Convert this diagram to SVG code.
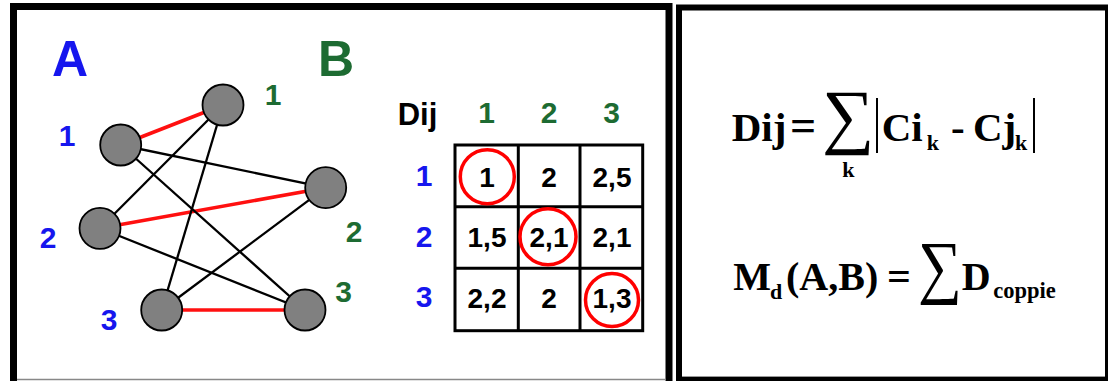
<svg xmlns="http://www.w3.org/2000/svg" width="1108" height="381" viewBox="0 0 1108 381">
<style>
.ss{font-family:"Liberation Sans",Arial,sans-serif;font-weight:bold}
.blue{fill:#1616ee}
.green{fill:#1d6b32}
.blk{fill:#000}
.edge{stroke:#000;stroke-width:2.3}
.red{stroke:#ff1010;stroke-width:3.5}
.node{fill:#808080;stroke:#000;stroke-width:1.8}
.cell{font-size:28px;text-anchor:middle}
.ring{fill:none;stroke:#ff0000;stroke-width:3.5}
.grid{stroke:#000;stroke-width:3;fill:none}
.tm{font-family:"Liberation Serif","Times New Roman",serif;font-weight:bold;fill:#000}
.sig{font-family:"Liberation Serif","Times New Roman",serif;font-weight:normal;fill:#000;text-anchor:middle}
</style>
<rect x="0" y="0" width="1108" height="381" fill="#fff"/>
<g id="frames">
<rect x="13.5" y="6.5" width="655.5" height="380" fill="#fff" stroke="#000" stroke-width="7"/>
<line x1="17" y1="379.5" x2="666" y2="379.5" stroke="#888" stroke-width="1.5"/>
<rect x="679" y="7.5" width="429" height="372" fill="#fff" stroke="#000" stroke-width="6"/>
<line x1="682" y1="376.5" x2="1105" y2="376.5" stroke="#999" stroke-width="1"/>
</g>
<g id="connectors">
<line class="red" x1="120.7" y1="145" x2="223" y2="105"/>
<line class="red" x1="100" y1="228.3" x2="325.7" y2="187.7"/>
<line class="red" x1="161.7" y1="310" x2="305" y2="310"/>
<line class="edge" x1="120.7" y1="145" x2="325.7" y2="187.7"/>
<line class="edge" x1="120.7" y1="145" x2="305" y2="310"/>
<line class="edge" x1="100" y1="228.3" x2="223" y2="105"/>
<line class="edge" x1="100" y1="228.3" x2="305" y2="310"/>
<line class="edge" x1="161.7" y1="310" x2="223" y2="105"/>
<line class="edge" x1="161.7" y1="310" x2="325.7" y2="187.7"/>
</g>
<g id="A1"><circle class="node" cx="120.7" cy="145" r="20.5"/></g>
<g id="A2"><circle class="node" cx="100" cy="228.3" r="20.5"/></g>
<g id="A3"><circle class="node" cx="161.7" cy="310" r="20.5"/></g>
<g id="B1"><circle class="node" cx="223" cy="105" r="20.5"/></g>
<g id="B2"><circle class="node" cx="325.7" cy="187.7" r="20.5"/></g>
<g id="B3"><circle class="node" cx="305" cy="310" r="20.5"/></g>
<g id="labels" class="ss">
<text class="blue" x="70" y="76" font-size="50" text-anchor="middle">A</text>
<text class="green" x="336" y="76" font-size="50" text-anchor="middle">B</text>
<text class="blue" x="67" y="146" font-size="30" text-anchor="middle">1</text>
<text class="blue" x="48" y="248" font-size="30" text-anchor="middle">2</text>
<text class="blue" x="109" y="330" font-size="30" text-anchor="middle">3</text>
<text class="green" x="273" y="105" font-size="30" text-anchor="middle">1</text>
<text class="green" x="354" y="241.7" font-size="30" text-anchor="middle">2</text>
<text class="green" x="343.5" y="301.7" font-size="30" text-anchor="middle">3</text>
</g>
<g id="matrix" class="ss">
<text class="blk" x="417.5" y="125" font-size="31" text-anchor="middle">Dij</text>
<text class="green" x="486.5" y="123.3" font-size="30" text-anchor="middle">1</text>
<text class="green" x="549" y="123.3" font-size="30" text-anchor="middle">2</text>
<text class="green" x="611.5" y="123.3" font-size="30" text-anchor="middle">3</text>
<text class="blue" x="424" y="185.7" font-size="30" text-anchor="middle">1</text>
<text class="blue" x="424" y="247.3" font-size="30" text-anchor="middle">2</text>
<text class="blue" x="424" y="307.3" font-size="30" text-anchor="middle">3</text>
<rect class="grid" x="455" y="145" width="187.7" height="185.7"/>
<line class="grid" x1="518.3" y1="145" x2="518.3" y2="330.7"/>
<line class="grid" x1="580" y1="145" x2="580" y2="330.7"/>
<line class="grid" x1="455" y1="206.7" x2="642.7" y2="206.7"/>
<line class="grid" x1="455" y1="268.3" x2="642.7" y2="268.3"/>
<text class="blk cell" x="487" y="186.7">1</text>
<text class="blk cell" x="549" y="186.7">2</text>
<text class="blk cell" x="612" y="186.7">2,5</text>
<text class="blk cell" x="487" y="246.7">1,5</text>
<text class="blk cell" x="549" y="246.7">2,1</text>
<text class="blk cell" x="612" y="246.7">2,1</text>
<text class="blk cell" x="487" y="308.3">2,2</text>
<text class="blk cell" x="549" y="308.3">2</text>
<text class="blk cell" x="612" y="308.3">1,3</text>
<circle class="ring" cx="487.3" cy="176.7" r="27"/>
<circle class="ring" cx="548" cy="236.7" r="28"/>
<circle class="ring" cx="612" cy="300" r="26.5"/>
</g>
<g id="formula1" class="tm">
<text x="731.7" y="140.7" font-size="41">Dij</text>
<text x="790" y="140.7" font-size="46">=</text>
<text class="sig" x="0" y="0" font-size="72" transform="translate(848.3,139.7) scale(1.02,1)">∑</text>
<text x="848.3" y="176.7" font-size="22" text-anchor="middle">k</text>
<line x1="877" y1="98" x2="877" y2="153" stroke="#000" stroke-width="2"/>
<text x="881.7" y="140.7" font-size="41">Ci</text>
<text x="926.7" y="150" font-size="22">k</text>
<text x="951" y="140.7" font-size="41">-</text>
<text x="973" y="140.7" font-size="41">Cj</text>
<text x="1015" y="150" font-size="22">k</text>
<line x1="1034" y1="98" x2="1034" y2="153" stroke="#000" stroke-width="2"/>
</g>
<g id="formula2" class="tm">
<text x="733.3" y="290" font-size="40">M</text>
<text x="770" y="299.3" font-size="22">d</text>
<text x="786" y="290" font-size="40">(A,B)</text>
<text x="887" y="290" font-size="42">=</text>
<text class="sig" x="0" y="0" font-size="70" transform="translate(940,289.5) scale(0.88,1)">∑</text>
<text x="961.7" y="290" font-size="40">D</text>
<text x="993.3" y="298.3" font-size="22.5">coppie</text>
</g>
</svg>
